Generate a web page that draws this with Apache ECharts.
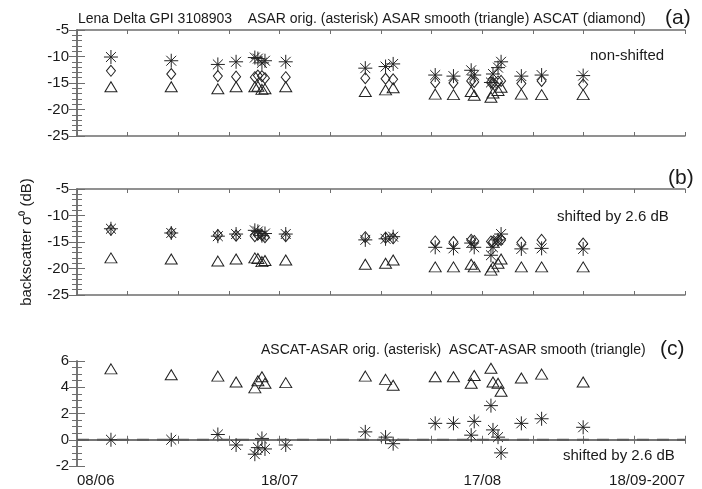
<!DOCTYPE html>
<html><head><meta charset="utf-8">
<script src="https://cdn.jsdelivr.net/npm/echarts@6/dist/echarts.min.js"></script>
<style>html,body{margin:0;padding:0;background:#fff}#c{width:702px;height:489px}</style>
</head><body><div id="c"></div>
<script>
// acquisition positions along the time axis (axis units, 0 = 08/06, 120 = 18/09-2007)
const dates = [6.7, 18.6, 27.8, 31.4, 35.1, 35.7, 36.5, 37.1, 41.2, 56.9, 60.9, 62.4, 70.7, 74.3, 77.8, 78.4, 81.7, 82.1, 83.1, 83.7, 87.7, 91.7, 99.9];
// panel (a) non-shifted
const asarOrig   = [-10.1,-10.8,-11.5,-11.0,-10.2,-10.4,-11.2,-10.8,-11.0,-12.2,-11.9,-11.4,-13.5,-13.7,-12.6,-13.5,-14.9,-13.3,-12.1,-11.0,-13.7,-13.5,-13.6];
const asarSmooth = [-15.7,-15.7,-16.1,-15.7,-15.7,-15.6,-16.2,-16.1,-15.7,-16.6,-16.3,-15.9,-17.1,-17.2,-16.6,-17.3,-17.7,-16.9,-16.4,-15.8,-17.1,-17.2,-17.2];
const ascat      = [-12.7,-13.3,-13.7,-13.8,-13.9,-13.6,-13.7,-14.1,-13.9,-14.1,-14.2,-14.3,-14.9,-15.0,-14.6,-14.8,-14.9,-15.0,-14.7,-14.6,-15.1,-14.6,-15.3];
// panel (b) shifted by 2.6 dB
const asarOrigShifted   = [-12.5,-13.3,-13.9,-13.5,-12.8,-13.0,-13.8,-13.4,-13.5,-14.6,-14.4,-14.0,-16.0,-16.2,-15.2,-16.0,-17.5,-16.0,-14.6,-13.5,-16.3,-16.2,-16.3];
const asarSmoothShifted = [-18.0,-18.2,-18.6,-18.2,-18.0,-18.1,-18.7,-18.5,-18.4,-19.2,-19.0,-18.4,-19.7,-19.7,-19.2,-19.7,-20.3,-19.7,-19.0,-18.2,-19.7,-19.7,-19.7];
// panel (c) differences
const diffOrig   = [0.0,0.0,0.4,-0.4,-1.1,-0.6,0.1,-0.7,-0.4,0.6,0.2,-0.3,1.25,1.25,0.35,1.4,2.6,0.75,0.2,-1.0,1.25,1.6,0.95];
const diffSmooth = [5.4,4.95,4.85,4.4,3.95,4.5,4.8,4.3,4.35,4.85,4.6,4.15,4.8,4.8,4.3,4.9,5.45,4.4,4.3,3.7,4.7,5.0,4.4];
// x tick labels
const xTickValues = [0, 40, 80, 120];
const xTickLabels = ['08/06', '18/07', '17/08', '18/09-2007'];
const yTicksAB = [-25, -20, -15, -10, -5];
const yTicksC = [-2, 0, 2, 4, 6];

const FONT = 'Liberation Sans';
const AX = '#6e6e6e';
const MK = '#222';
const grids = [
  {left: 77, right: 17, top: 30, height: 106},
  {left: 77, right: 17, top: 189, height: 106},
  {left: 77, right: 17, top: 361, height: 105}
];
const xAxes = [], yAxes = [];
grids.forEach((g, i) => {
  ['bottom', 'top'].forEach(pos => {
    xAxes.push({
      type: 'value', gridIndex: i, position: pos, min: 0, max: 120, interval: 10,
      axisLine: {lineStyle: {color: AX, width: 1.5}},
      axisTick: {inside: true, length: 4, lineStyle: {color: AX}},
      splitLine: {show: false},
      axisLabel: {
        show: i === 2 && pos === 'bottom', margin: 7, fontFamily: FONT, fontSize: 15, color: '#1a1a1a',
        alignMinLabel: 'left', alignMaxLabel: 'right',
        formatter: v => { const k = xTickValues.indexOf(v); return k >= 0 ? xTickLabels[k] : ''; }
      }
    });
  });
  const ticks = i === 2 ? yTicksC : yTicksAB;
  const step = ticks[1] - ticks[0];
  ['left', 'right'].forEach(pos => {
    yAxes.push({
      type: 'value', gridIndex: i, position: pos,
      min: ticks[0], max: ticks[ticks.length - 1], interval: step,
      axisLine: {show: true, lineStyle: {color: AX, width: 1.5}},
      axisTick: {show: true, inside: true, length: 8, lineStyle: {color: AX}},
      minorTick: {show: true, splitNumber: i === 2 ? 4 : 5, length: 5, lineStyle: {color: AX}},
      splitLine: {show: false},
      axisLabel: {show: pos === 'left', margin: 8, fontFamily: FONT, fontSize: 15, color: '#1a1a1a'},
      name: (i === 1 && pos === 'left') ? 'backscatter σ⁰ (dB)' : '',
      nameLocation: 'middle', nameRotate: 90, nameGap: 43,
      nameTextStyle: {fontFamily: FONT, fontSize: 15, color: '#1a1a1a'}
    });
  });
});

const ASTERISK = 'path://M0,-10L0,10M-10,0L10,0M-7.07,-7.07L7.07,7.07M-7.07,7.07L7.07,-7.07';
function pts(ys) { return dates.map((x, k) => [x, ys[k]]); }
function sc(grid, ys, kind) {
  const s = {
    type: 'scatter', xAxisIndex: grid * 2, yAxisIndex: grid * 2, data: pts(ys), silent: true,
    itemStyle: {color: 'rgba(0,0,0,0)', borderColor: MK, borderWidth: 1, opacity: 1}
  };
  if (kind === 'ast') { s.symbol = ASTERISK; s.symbolSize = 14; }
  if (kind === 'tri') { s.symbol = 'triangle'; s.symbolSize = [12, 10]; }
  if (kind === 'dia') { s.symbol = 'diamond'; s.symbolSize = [9, 11]; }
  return s;
}
const series = [
  sc(0, ascat, 'dia'), sc(0, asarSmooth, 'tri'), sc(0, asarOrig, 'ast'),
  sc(1, ascat, 'dia'), sc(1, asarSmoothShifted, 'tri'), sc(1, asarOrigShifted, 'ast'),
  sc(2, diffSmooth, 'tri'), sc(2, diffOrig, 'ast')
];
series.unshift({
  type: 'line', xAxisIndex: 4, yAxisIndex: 4, silent: true, symbol: 'none',
  data: [[0, 0], [120, 0]],
  lineStyle: {color: '#5a5a5a', width: 2, type: [12, 8]}
});

const T = (text, left, top, size) => ({text, left, top, textStyle: {fontFamily: FONT, fontSize: size || 15, fontWeight: 'normal', color: '#1a1a1a'}});
const chart = echarts.init(document.getElementById('c'), null, {renderer: 'canvas'});
chart.setOption({
  animation: false,
  backgroundColor: '#fff',
  title: [
    T('Lena Delta GPI 3108903    ASAR orig. (asterisk) ASAR smooth (triangle) ASCAT (diamond)', 73, 7, 14),
    T('(a)', 660, 3, 21),
    T('non-shifted', 585, 43),
    T('(b)', 663, 163, 21),
    T('shifted by 2.6 dB', 552, 204),
    T('ASCAT-ASAR orig. (asterisk)  ASCAT-ASAR smooth (triangle)', 256, 338, 14),
    T('(c)', 655, 334, 21),
    T('shifted by 2.6 dB', 558, 443)
  ],
  grid: grids,
  xAxis: xAxes,
  yAxis: yAxes,
  series
});
</script></body></html>
